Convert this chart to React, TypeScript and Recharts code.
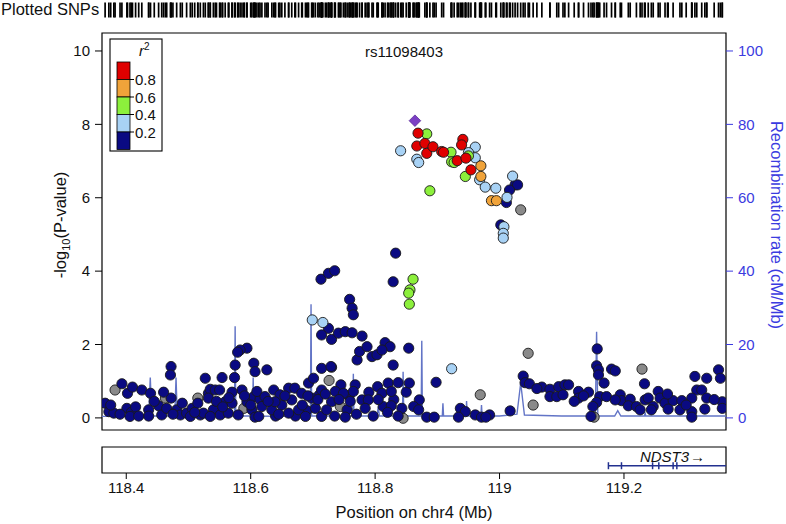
import React from 'react';
import { ComposedChart, Scatter, Line, XAxis, YAxis, ReferenceArea } from 'recharts';

const FONT = '"Liberation Sans", Arial, Helvetica, sans-serif';
const BLUE_AXIS = '#3b3be0';

const xDomain: [number, number] = [118.361, 119.364];
const pDomain: [number, number] = [-0.33, 10.49];
const recDomain: [number, number] = [-3.3, 104.9];

const xTicks = [118.4, 118.6, 118.8, 119, 119.2];
const pTicks = [0, 2, 4, 6, 8, 10];
const recTicks = [0, 20, 40, 60, 80, 100];

type Pt = [number, number]; // [position Mb, -log10 p]

// r2 < 0.2
const navySnps: Pt[] = [
  [119.025, 6.35], [119.029, 6.35], [119.016, 6.21], [119.011, 5.87], [119.002, 5.26],
  [118.833, 4.49], [118.829, 3.71], [118.713, 3.78], [118.725, 3.94], [118.735, 4.01],
  [118.725, 2.44], [118.714, 2.26], [118.73, 2.14], [118.741, 2.31], [118.752, 2.35],
  [118.763, 2.32], [118.759, 3.23], [118.763, 2.99], [118.765, 2.81], [118.779, 2.23],
  [118.771, 1.58], [118.775, 1.81], [118.787, 1.94], [118.795, 1.67], [118.803, 1.72],
  [118.816, 2.05], [118.824, 1.94], [118.811, 1.85], [118.854, 1.9], [118.829, 1.44],
  [118.594, 1.9], [118.583, 1.85], [118.579, 1.79], [118.575, 1.44], [118.605, 1.49],
  [118.607, 1.26], [118.626, 1.31], [118.574, 1.1], [118.472, 1.4], [118.471, 1.17],
  [118.527, 1.08], [118.554, 1.1], [118.714, 1.35], [118.73, 1.38],
  [118.393, 0.93], [118.366, 0.4], [118.372, 0.17], [118.38, 0.13], [118.402, 0.67],
  [118.41, 0.84], [118.401, 0.26], [118.408, 0.15], [118.406, 0.04], [118.425, 0.76],
  [118.439, 0.67], [118.436, 0.22], [118.436, 0.05], [118.452, 0.33], [118.457, 0.08],
  [118.472, 0.54], [118.465, 0.26], [118.481, 0.22], [118.487, 0.08], [118.497, 0.13],
  [118.506, 0.26], [118.519, 0.08], [118.532, 0.67], [118.535, 0.78], [118.543, 0.76],
  [118.55, 0.76], [118.532, 0.54], [118.54, 0.22], [118.559, 0.44], [118.57, 0.4],
  [118.551, 0.08], [118.564, 0.13], [118.586, 0.76], [118.594, 0.44], [118.605, 0.58],
  [118.602, 0.22], [118.58, 0.08], [118.607, 0.02], [118.503, 0.04], [118.524, 0.13],
  [118.535, 0.04], [118.46, 0.7], [118.515, 0.4], [118.545, 0.45], [118.57, 0.7], [118.59, 0.6],
  [118.375, 0.35], [118.39, 0.1], [118.415, 0.3], [118.42, 0.05], [118.445, 0.45],
  [118.475, 0.1], [118.49, 0.4], [118.51, 0.15], [118.555, 0.3], [118.565, 0.55],
  [118.6, 0.35], [118.615, 0.5], [118.64, 0.05], [118.672, 0.05], [118.69, 0.2],
  [118.71, 0.62], [118.735, 0.05], [118.745, 0.9], [118.758, 0.6], [118.79, 0.7],
  [118.83, 0.5], [118.85, 0.7], [118.855, 0.95],
  [118.61, 0.72], [118.623, 0.58], [118.637, 0.76], [118.647, 0.63], [118.661, 0.81],
  [118.671, 0.81], [118.682, 0.67], [118.693, 0.95], [118.701, 1.08], [118.729, 1.4],
  [118.714, 0.76], [118.736, 0.72], [118.749, 0.67], [118.768, 0.9], [118.765, 0.72],
  [118.73, 0.44], [118.755, 0.22], [118.779, 0.49], [118.789, 0.49], [118.784, 0.26],
  [118.804, 0.85], [118.811, 0.67], [118.821, 0.95], [118.826, 0.72], [118.837, 0.96],
  [118.813, 0.31], [118.826, 0.33], [118.843, 0.26], [118.837, 0.05], [118.618, 0.31],
  [118.634, 0.22], [118.65, 0.35], [118.661, 0.13], [118.677, 0.22], [118.688, 0.04],
  [118.704, 0.26], [118.714, 0.04], [118.722, 0.22], [118.752, 0.02], [118.666, 0.49],
  [118.639, 0.44], [118.698, 0.54], [118.613, 0.04], [118.628, 0.45], [118.645, 0.1],
  [118.655, 0.6], [118.683, 0.35], [118.692, 0.6], [118.708, 0.5], [118.72, 0.65],
  [118.742, 0.5], [118.76, 0.45], [118.77, 0.1], [118.797, 0.05], [118.805, 0.5], [118.82, 0.15],
  [118.898, 0.97], [119.038, 1.14], [119.041, 0.96], [119.048, 0.93], [118.871, 0.49],
  [118.862, 0.31], [118.87, 0.22], [118.883, 0.02], [118.895, 0.02], [118.937, 0.26],
  [118.945, 0.17], [118.934, 0.02], [118.961, 0.08], [118.971, 0.02], [118.984, 0.08],
  [118.978, 0.02], [119.017, 0.19], [119.068, 0.84], [119.081, 0.78], [119.095, 0.85],
  [119.105, 0.9], [119.081, 0.58], [119.092, 0.58], [119.102, 0.63], [119.06, 0.8],
  [119.157, 1.88], [119.156, 1.42], [119.159, 1.31], [119.159, 1.17], [119.18, 1.33],
  [119.186, 1.28], [119.168, 0.95], [119.233, 0.93], [119.111, 0.9], [119.127, 0.72],
  [119.143, 0.7], [119.127, 0.54], [119.161, 0.58], [119.172, 0.58], [119.156, 0.42],
  [119.15, 0.31], [119.147, 0.04], [119.194, 0.63], [119.196, 0.47], [119.21, 0.51],
  [119.207, 0.33], [119.22, 0.31], [119.234, 0.49], [119.239, 0.54], [119.255, 0.72],
  [119.258, 0.54], [119.247, 0.31], [119.266, 0.4], [119.279, 0.47], [119.293, 0.47],
  [119.271, 0.24], [119.29, 0.22], [119.314, 1.13], [119.333, 1.08], [119.352, 1.31],
  [119.355, 1.08], [119.317, 0.76], [119.325, 0.76], [119.309, 0.54], [119.333, 0.54],
  [119.33, 0.24], [119.309, 0.17], [119.309, 0.02], [119.358, 0.44], [119.358, 0.26],
  [119.226, 0.22], [119.244, 0.22], [119.186, 0.49], [119.12, 0.45], [119.135, 0.6],
  [119.27, 0.65], [119.3, 0.35], [119.345, 0.5],
];

// 0.2 - 0.4
const lightBlueSnps: Pt[] = [
  [118.841, 7.28], [118.867, 7.05], [118.87, 6.96], [118.961, 7.38], [118.95, 7.23],
  [118.961, 7.09], [118.968, 6.49], [118.977, 6.29], [118.994, 6.26], [119.021, 6.59],
  [119.012, 6.01], [119.007, 5.21], [119.006, 5.03], [119.006, 4.9], [118.699, 2.67],
  [118.716, 2.6], [118.923, 1.34],
];

// 0.4 - 0.6
const greenSnps: Pt[] = [
  [118.883, 7.74], [118.922, 7.24], [118.923, 6.98], [118.927, 6.96], [118.95, 7.14],
  [118.945, 6.58], [118.888, 6.19], [118.861, 3.78], [118.856, 3.49], [118.854, 3.4],
  [118.855, 3.1],
];

// 0.6 - 0.8
const orangeSnps: Pt[] = [
  [118.97, 6.87], [118.97, 6.58], [118.987, 5.92], [118.995, 5.92],
];

// 0.8 - 1
const redSnps: Pt[] = [
  [118.869, 7.76], [118.867, 7.41], [118.88, 7.48], [118.883, 7.21], [118.893, 7.39],
  [118.907, 7.26], [118.91, 7.24], [118.932, 7.01], [118.941, 7.59], [118.939, 7.44],
  [118.946, 7.08], [118.954, 6.76],
];

// no LD info
const graySnps: Pt[] = [
  [119.034, 5.67], [118.382, 0.76], [118.463, 0.54], [118.515, 0.54], [118.589, 0.26],
  [118.726, 1.02], [118.744, 0.31], [118.845, -0.01], [119.046, 1.76], [118.969, 0.63],
  [119.054, 0.35], [119.229, 1.33], [119.152, 0.02],
];

const leadSnp: Pt[] = [[118.864, 8.1]];
const leadSnpName = 'rs11098403';

const recPos = [
  118.361, 118.4, 118.436, 118.4386, 118.441, 118.478, 118.48, 118.482, 118.52, 118.574,
  118.575, 118.576, 118.603, 118.604, 118.605, 118.65, 118.696, 118.697, 118.698, 118.74,
  118.764, 118.765, 118.766, 118.803, 118.805, 118.807, 118.844, 118.845, 118.846, 118.874,
  118.875, 118.876, 118.908, 118.909, 118.91, 118.946, 118.947, 118.948, 118.97, 118.971,
  118.972, 119.0, 119.028, 119.034, 119.04, 119.1, 119.154, 119.156, 119.158, 119.185,
  119.19, 119.195, 119.233, 119.234, 119.235, 119.3, 119.364,
];
const recRate = [
  0.4, 0.5, 0.5, 11, 0.5, 0.5, 11, 0.5, 0.4, 0.5,
  25, 0.5, 0.5, 11, 0.5, 0.4, 0.5, 31, 0.5, 0.5,
  0.5, 12, 0.5, 0.5, 3, 0.5, 0.5, 12.6, 0.5, 0.5,
  21, 0.5, 0.5, 4, 0.5, 0.5, 4.6, 0.5, 0.5, 3.5,
  0.5, 0.5, 1, 9.5, 0.8, 0.5, 0.5, 23.5, 0.5, 0.5,
  2, 0.5, 0.5, 1.5, 0.5, 0.5, 0.5,
];

const geneName = 'NDST3';
const geneSpan: [number, number] = [119.175, 119.364];
const geneExons = [119.175, 119.196, 119.246, 119.256, 119.279, 119.285];

const ldBins = [
  { label: '0.8', color: '#e00000' },
  { label: '0.6', color: '#f0a33a' },
  { label: '0.4', color: '#8cf03c' },
  { label: '0.2', color: '#a8d2f5' },
  { label: '', color: '#0a0a82' },
];

const toRows = (pts: Pt[]) => pts.map(([pos, logp]) => ({ pos, logp }));
const recRows = recPos.map((pos, i) => ({ pos, rate: recRate[i] }));

const circle = (fill: string) => (props: any) => (
  <circle cx={props.cx} cy={props.cy} r={5.1} fill={fill} stroke="#1a1a1a" strokeWidth={0.9} />
);

const diamond = (props: any) => {
  const { cx, cy } = props;
  const s = 5.8;
  return (
    <polygon
      points={`${cx},${cy - s} ${cx + s},${cy} ${cx},${cy + s} ${cx - s},${cy}`}
      fill="#7b3fc4"
      stroke="#5a2a99"
      strokeWidth={0.8}
    />
  );
};

const allSnpPos = [
  ...navySnps, ...lightBlueSnps, ...greenSnps, ...orangeSnps, ...redSnps, ...graySnps, ...leadSnp,
].map(([pos]) => ({ pos, y: 0.5 }));

const tickStyle = { fontSize: 15, fontFamily: FONT, fill: '#111' };

export default function App() {
  return (
    <div style={{ position: 'absolute', left: 0, top: 0, width: 786, height: 524, background: '#fff' }}>
      {/* Plotted SNPs strip */}
      <div style={{ position: 'absolute', left: 0, top: 0 }}>
        <ComposedChart width={786} height={20} margin={{ top: 2, right: 60, bottom: 2, left: 102 }}>
          <XAxis type="number" dataKey="pos" domain={xDomain} allowDataOverflow hide />
          <YAxis type="number" dataKey="y" domain={[0, 1]} hide />
          <Scatter
            data={allSnpPos}
            isAnimationActive={false}
            shape={(p: any) => (
              <line x1={p.cx} x2={p.cx} y1={p.cy - 7.5} y2={p.cy + 7.5} stroke="#000" strokeWidth={1.7} />
            )}
          />
        </ComposedChart>
      </div>

      {/* main association plot */}
      <div style={{ position: 'absolute', left: 0, top: 0 }}>
        <ComposedChart width={786} height={440} margin={{ top: 33, right: 0, bottom: 10, left: 0 }}>
          <XAxis type="number" dataKey="pos" domain={xDomain} allowDataOverflow hide />
          <YAxis
            yAxisId="left"
            type="number"
            dataKey="logp"
            domain={pDomain}
            ticks={pTicks}
            allowDataOverflow
            width={102}
            axisLine={false}
            tickSize={7}
            tickMargin={5}
            tickLine={{ stroke: '#000' }}
            tick={tickStyle}
          />
          <YAxis
            yAxisId="right"
            orientation="right"
            type="number"
            domain={recDomain}
            ticks={recTicks}
            allowDataOverflow
            width={60}
            axisLine={false}
            tickSize={7}
            tickMargin={5}
            tickLine={{ stroke: BLUE_AXIS }}
            tick={{ ...tickStyle, fill: BLUE_AXIS }}
          />
          <Line
            yAxisId="right"
            data={recRows}
            dataKey="rate"
            type="linear"
            stroke="#6274c6"
            strokeWidth={1.4}
            dot={false}
            activeDot={false}
            isAnimationActive={false}
          />
          <Scatter yAxisId="left" data={toRows(graySnps)} shape={circle('#8a8a8a')} isAnimationActive={false} />
          <Scatter yAxisId="left" data={toRows(navySnps)} shape={circle('#0a0a82')} isAnimationActive={false} />
          <Scatter yAxisId="left" data={toRows(lightBlueSnps)} shape={circle('#a8d2f5')} isAnimationActive={false} />
          <Scatter yAxisId="left" data={toRows(greenSnps)} shape={circle('#8cf03c')} isAnimationActive={false} />
          <Scatter yAxisId="left" data={toRows(orangeSnps)} shape={circle('#f0a33a')} isAnimationActive={false} />
          <Scatter yAxisId="left" data={toRows(redSnps)} shape={circle('#e00000')} isAnimationActive={false} />
          <Scatter yAxisId="left" data={toRows(leadSnp)} shape={diamond} isAnimationActive={false} />
          <ReferenceArea
            yAxisId="left"
            x1={xDomain[0]}
            x2={xDomain[1]}
            y1={pDomain[0]}
            y2={pDomain[1]}
            fill="none"
            stroke="#000"
            strokeWidth={1.2}
          />
        </ComposedChart>
      </div>

      {/* gene track + x axis */}
      <div style={{ position: 'absolute', left: 0, top: 440 }}>
        <ComposedChart width={786} height={84} margin={{ top: 7, right: 60, bottom: 0, left: 102 }}>
          <XAxis
            type="number"
            dataKey="pos"
            domain={xDomain}
            ticks={xTicks}
            allowDataOverflow
            height={51}
            axisLine={false}
            tickSize={6}
            tickMargin={3}
            tickLine={{ stroke: '#000' }}
            tick={tickStyle}
            tickFormatter={(v: number) => String(v)}
            label={{
              value: 'Position on chr4 (Mb)',
              position: 'insideBottom',
              offset: 6,
              style: { fontSize: 16.5, fontFamily: FONT, fill: '#111' },
            }}
          />
          <YAxis type="number" dataKey="g" domain={[0, 1]} hide />
          <Line
            data={[{ pos: geneSpan[0], g: 0.28 }, { pos: geneSpan[1], g: 0.28 }]}
            dataKey="g"
            stroke="#23318f"
            strokeWidth={1.4}
            dot={false}
            activeDot={false}
            isAnimationActive={false}
          />
          <Scatter
            data={geneExons.map((pos) => ({ pos, g: 0.28 }))}
            isAnimationActive={false}
            shape={(p: any) => (
              <line x1={p.cx} x2={p.cx} y1={p.cy - 3.5} y2={p.cy + 3.5} stroke="#23318f" strokeWidth={1.5} />
            )}
          />
          <Scatter
            data={[{ pos: 119.278, g: 0.62 }]}
            isAnimationActive={false}
            shape={(p: any) => (
              <text x={p.cx} y={p.cy + 5} textAnchor="middle" fontFamily={FONT} fontSize={15} fill="#111">
                <tspan fontStyle="italic">{geneName}</tspan>
                <tspan dx={1}>→</tspan>
              </text>
            )}
          />
          <ReferenceArea
            x1={xDomain[0]}
            x2={xDomain[1]}
            y1={0}
            y2={1}
            fill="none"
            stroke="#000"
            strokeWidth={1.2}
          />
        </ComposedChart>
      </div>

      {/* static texts and r2 legend */}
      <svg
        width={786}
        height={524}
        style={{ position: 'absolute', left: 0, top: 0, pointerEvents: 'none' }}
        fontFamily={FONT}
      >
        <text x={1} y={15} fontSize={16.5} fill="#111">Plotted SNPs</text>
        <text x={404} y={57} fontSize={15} fill="#111" textAnchor="middle">{leadSnpName}</text>
        <text transform="translate(66,225) rotate(-90)" fontSize={16.5} fill="#111" textAnchor="middle">
          -log
          <tspan fontSize={11} dy={4}>10</tspan>
          <tspan dy={-4}>(P-value)</tspan>
        </text>
        <text transform="translate(771,225) rotate(90)" fontSize={16.5} fill={BLUE_AXIS} textAnchor="middle">
          Recombination rate (cM/Mb)
        </text>

        <rect x={110} y={39} width={52} height={112} fill="#fff" stroke="#000" strokeWidth={1.1} />
        <text x={139} y={56} fontSize={15} fill="#111">
          <tspan fontStyle="italic">r</tspan>
          <tspan fontSize={10} dy={-6}>2</tspan>
        </text>
        {ldBins.map((b, i) => (
          <g key={i}>
            <rect x={117} y={62 + i * 17.5} width={13} height={17.5} fill={b.color} stroke="#000" strokeWidth={0.8} />
            {b.label && (
              <>
                <line x1={130} x2={134} y1={79.5 + i * 17.5} y2={79.5 + i * 17.5} stroke="#000" />
                <text x={135} y={85 + i * 17.5} fontSize={15} fill="#111">{b.label}</text>
              </>
            )}
          </g>
        ))}
      </svg>
    </div>
  );
}
